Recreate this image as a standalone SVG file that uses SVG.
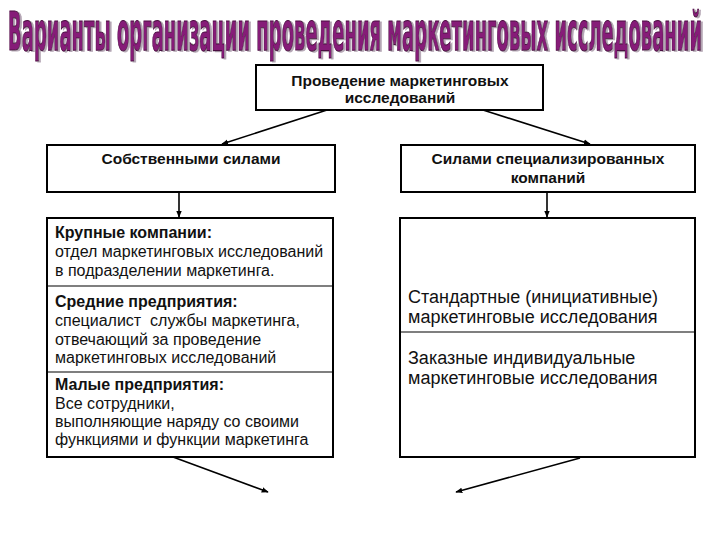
<svg xmlns="http://www.w3.org/2000/svg" width="720" height="540" viewBox="0 0 720 540">
<defs>
<marker id="arr" viewBox="0 0 10 10" refX="9" refY="5" markerWidth="7" markerHeight="7" markerUnits="userSpaceOnUse" orient="auto">
<path d="M0,1 L10,5 L0,9 z" fill="#000"/>
</marker>
<filter id="shadow" x="-5%" y="-20%" width="110%" height="150%">
<feOffset in="SourceAlpha" dx="2" dy="0.9" result="off"/>
<feFlood flood-color="#b4a6b4"/>
<feComposite in2="off" operator="in" result="sh"/>
<feMerge><feMergeNode in="sh"/><feMergeNode in="SourceGraphic"/></feMerge>
</filter>
<style>
.box{fill:#fff;stroke:#000;stroke-width:2}
.div{stroke:#000;stroke-width:1.2}
.con{stroke:#000;stroke-width:1.6;fill:none;marker-end:url(#arr)}
.hb{font-family:"Liberation Sans",Arial,sans-serif;font-weight:bold;font-size:15.5px;fill:#111;text-anchor:middle}
.b{font-family:"Liberation Sans",Arial,sans-serif;font-weight:bold;font-size:16px;fill:#111}
.t{font-family:"Liberation Sans",Arial,sans-serif;font-size:16px;fill:#111}
.r{font-family:"Liberation Sans",Arial,sans-serif;font-size:18px;fill:#111}
.title{font-family:"Liberation Sans Narrow","DejaVu Sans Condensed","Liberation Sans",sans-serif;font-weight:bold;font-size:19px}
</style>
</defs>
<rect width="720" height="540" fill="#fff"/>
<g id="title" filter="url(#shadow)">
<g transform="translate(8,50) scale(1,2.8)">
<text class="title" x="0" y="0" textLength="694" lengthAdjust="spacingAndGlyphs" fill="#861c78" stroke="#4a0a40" stroke-width="0.4">Варианты организации проведения маркетинговых исследований</text>
</g>
</g>
<g id="connectors">
<line class="con" x1="327" y1="110" x2="222" y2="144"/>
<line class="con" x1="483" y1="110" x2="590" y2="144"/>
<line class="con" x1="179" y1="192" x2="179" y2="217"/>
<line class="con" x1="547" y1="192" x2="547" y2="217"/>
<line class="con" x1="173" y1="457" x2="268" y2="492"/>
<line class="con" x1="580" y1="458" x2="456" y2="492"/>
</g>
<g id="node-top">
<rect class="box" x="256" y="65" width="287" height="45"/>
<text class="hb" x="400" y="86">Проведение маркетинговых</text>
<text class="hb" x="400" y="103">исследований</text>
</g>
<g id="node-own">
<rect class="box" x="47" y="145" width="288" height="47"/>
<text class="hb" x="191" y="164">Собственными силами</text>
</g>
<g id="node-spec">
<rect class="box" x="401" y="145" width="294" height="47"/>
<text class="hb" x="548" y="164">Силами специализированных</text>
<text class="hb" x="548" y="183">компаний</text>
</g>
<g id="node-left">
<rect class="box" x="47" y="218" width="286" height="239"/>
<line class="div" x1="47" y1="286" x2="333" y2="286"/>
<line class="div" x1="47" y1="372" x2="333" y2="372"/>
<text class="b" x="55" y="238">Крупные компании:</text>
<text class="t" x="55" y="257">отдел маркетинговых исследований</text>
<text class="t" x="55" y="276">в подразделении маркетинга.</text>
<text class="b" x="55" y="307">Средние предприятия:</text>
<text class="t" x="55" y="326" xml:space="preserve">специалист  службы маркетинга,</text>
<text class="t" x="55" y="345">отвечающий за проведение</text>
<text class="t" x="55" y="363">маркетинговых исследований</text>
<text class="b" x="55" y="390">Малые предприятия:</text>
<text class="t" x="55" y="409">Все сотрудники,</text>
<text class="t" x="55" y="427">выполняющие наряду со своими</text>
<text class="t" x="55" y="445">функциями и функции маркетинга</text>
</g>
<g id="node-right">
<rect class="box" x="400" y="218" width="295" height="239"/>
<line class="div" x1="400" y1="332" x2="695" y2="332"/>
<text class="r" x="408" y="303">Стандартные (инициативные)</text>
<text class="r" x="408" y="323">маркетинговые исследования</text>
<text class="r" x="408" y="364">Заказные индивидуальные</text>
<text class="r" x="408" y="384">маркетинговые исследования</text>
</g>
</svg>
